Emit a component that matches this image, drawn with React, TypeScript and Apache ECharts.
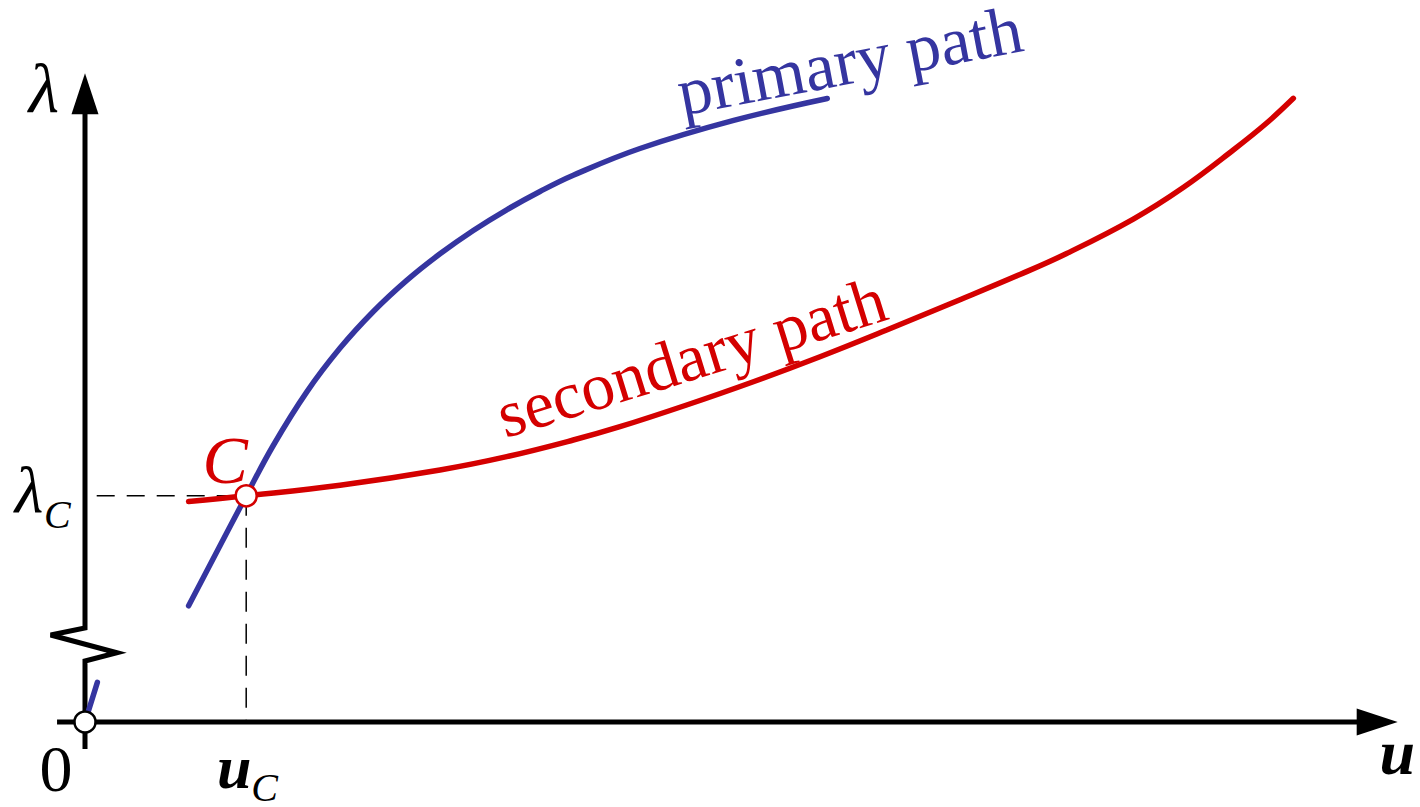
import { useEffect, useRef } from "react";
import * as echarts from "echarts";

// Equilibrium paths in the (u, λ) plane.
const primaryPath: number[][] = [
  [7.97, 17.88], [12.4, 34.8], [14.48, 42.54], [17.05, 50.75], [19.62, 57.52],
  [22.18, 63.15], [24.75, 67.94], [27.31, 72.03], [29.87, 75.62], [32.44, 78.8],
  [35.0, 81.62], [37.56, 84.12], [42.69, 88.23], [49.9, 92.55], [57.1, 95.92],
];
// Start of the primary path, below the break of the λ axis.
const primaryStart: number[][] = [[0, 0], [0.95, 6.1]];
const secondaryPath: number[][] = [
  [7.97, 33.92], [12.4, 34.8], [19.62, 36.42], [27.31, 38.77], [32.44, 40.82],
  [37.56, 43.38], [41.15, 45.43], [46.28, 48.77], [51.41, 52.35], [56.54, 56.2],
  [61.67, 60.31], [66.79, 64.54], [71.92, 68.85], [75.51, 72.08], [80.64, 77.38],
  [84.48, 82.23], [88.33, 88.0], [90.9, 92.15], [92.95, 95.95],
];
// Bifurcation point C = (uC, λC).
const critical: number[] = [12.4, 34.8];
const origin: number[] = [0, 0];

// Hand-drawn axes: the λ axis carries a zigzag break.
const lambdaAxisLine: number[][] = [
  [0, -4.15], [0, 9.38], [2.46, 10.66], [-2.64, 13.38], [0, 14.46], [0, 96],
];
const uAxisLine: number[][] = [[-2.15, 0], [99, 0]];
const uArrow: number[] = [99.4, 0];
const lambdaArrow: number[] = [0, 96.66];
const lambdaGuideStart = 0.9;

const BLUE = "#3535a0";
const RED = "#d40000";
const SERIF = "'Liberation Serif', 'DejaVu Serif', serif";

export default function App() {
  const ref = useRef<HTMLDivElement>(null);

  useEffect(() => {
    document.body.style.margin = "0";
    const el = ref.current!;
    const chart = echarts.init(el, null, { renderer: "svg" });

    const axisStyle = { color: "#000", width: 5, join: "miter" as const };
    const curveSmooth = 0.4;

    chart.setOption({
      animation: false,
      backgroundColor: "#fff",
      grid: { left: 20, right: 35, top: 72, bottom: 20 },
      xAxis: { type: "value", min: -5, max: 100, show: false },
      yAxis: { type: "value", min: -10, max: 100, show: false },
      series: [
        {
          type: "line", data: uAxisLine, clip: false, silent: true,
          symbol: "none", lineStyle: axisStyle, z: 1,
        },
        {
          type: "line", data: lambdaAxisLine, clip: false, silent: true,
          symbol: "none", lineStyle: axisStyle, z: 1,
        },
        {
          type: "scatter", clip: false, silent: true, z: 2,
          data: [
            { value: uArrow, symbolRotate: -90 },
            { value: lambdaArrow, symbolRotate: 0 },
          ],
          symbol: "triangle", symbolSize: [27, 41],
          itemStyle: { color: "#000", opacity: 1 },
        },
        {
          type: "line", clip: false, silent: true, symbol: "none", z: 2,
          data: [[lambdaGuideStart, critical[1]], critical],
          lineStyle: { color: "#000", width: 1.5, type: [18, 12] },
        },
        {
          type: "line", clip: false, silent: true, symbol: "none", z: 2,
          data: [critical, [critical[0], 0]],
          lineStyle: { color: "#000", width: 1.5, type: [20, 12] },
        },
        {
          name: "secondary path", type: "line", data: secondaryPath, clip: false,
          smooth: curveSmooth, symbol: "none", z: 3,
          lineStyle: { color: RED, width: 5.5, cap: "round" },
        },
        {
          name: "primary path", type: "line", data: primaryPath, clip: false,
          smooth: curveSmooth, symbol: "none", z: 3,
          lineStyle: { color: BLUE, width: 5.5, cap: "round" },
        },
        {
          type: "line", data: primaryStart, clip: false, symbol: "none", z: 3,
          lineStyle: { color: BLUE, width: 5.5, cap: "round" },
        },
        {
          type: "scatter", clip: false, silent: true, z: 5,
          data: [origin], symbol: "circle", symbolSize: 21,
          itemStyle: { color: "#fff", borderColor: "#000", borderWidth: 2.5, opacity: 1 },
        },
        {
          type: "scatter", clip: false, silent: true, z: 5,
          data: [critical], symbol: "circle", symbolSize: 21,
          itemStyle: { color: "#fff", borderColor: RED, borderWidth: 2.5, opacity: 1 },
        },
      ],
    });

    const toPx = (p: number[]) =>
      chart.convertToPixel({ gridIndex: 0 }, p) as unknown as number[];
    const O = toPx(origin);
    const C = toPx(critical);
    const top = toPx([0, 100]);
    const uEnd = toPx(uArrow);

    // Text placed by its baseline (x, baseline), optionally rotated.
    const label = (
      text: string, x: number, baseline: number, size: number,
      style: string, color: string, align: string, rotationDeg = 0,
    ) => {
      const off = 0.3375 * size;
      const r = (rotationDeg * Math.PI) / 180;
      return {
        type: "text", silent: true, z: 10,
        x, y: baseline, rotation: r,
        style: {
          text, x: 0, y: -off,
          font: `${style} ${size}px ${SERIF}`,
          fill: color,
          align, textAlign: align,
          verticalAlign: "middle", textVerticalAlign: "middle",
        },
      };
    };

    const primaryAnchor = toPx([59.15, 98.3]);
    const secondaryAnchor = toPx([47.14, 52.9]);

    chart.setOption({
      graphic: [
        label("λ", O[0] - 41, top[1] + 40, 70, "italic", "#000", "center"),
        label("λ", O[0] - 56, C[1] + 16, 66, "italic", "#000", "center"),
        label("C", O[0] - 41, C[1] + 32, 40, "italic", "#000", "left"),
        label("0", O[0] - 29, O[1] + 69, 66, "normal", "#000", "center"),
        label("u", C[0] - 12, O[1] + 66, 62, "italic bold", "#000", "center"),
        label("C", C[0] + 5, O[1] + 79, 40, "italic", "#000", "left"),
        label("u", uEnd[0] + 20, O[1] + 52, 64, "italic bold", "#000", "center"),
        label("C", C[0] - 21, C[1] - 13, 68, "italic", RED, "center"),
        label("primary path", primaryAnchor[0], primaryAnchor[1], 68, "normal", BLUE, "center", 10.7),
        label("secondary path", secondaryAnchor[0], secondaryAnchor[1], 67, "normal", RED, "center", 17.2),
      ],
    });

    return () => chart.dispose();
  }, []);

  return (
    <div
      ref={ref}
      style={{ position: "fixed", left: 0, top: 0, width: 1420, height: 807 }}
    />
  );
}
